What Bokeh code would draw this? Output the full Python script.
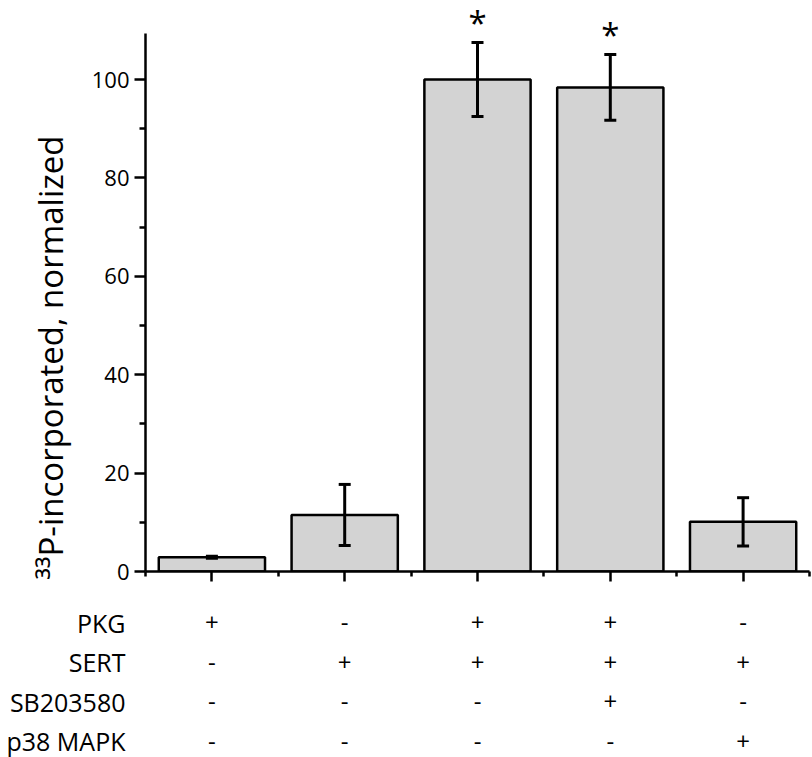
from bokeh.plotting import figure
from bokeh.models import (Range1d, FixedTicker, ColumnDataSource, Whisker, TeeHead, Column, Title)
from bokeh.core.properties import value
from bokeh.embed import file_html
from bokeh.resources import INLINE

# ---- data ----
positions = [1, 2, 3, 4, 5]
values = [2.9, 11.5, 100.0, 98.4, 10.1]
errors = [0.2, 6.2, 7.5, 6.7, 4.9]
star_bars = [3, 4]
row_names = ["PKG", "SERT", "SB203580", "p38 MAPK"]
pkg = ["+", "-", "+", "+", "-"]
sert = ["-", "+", "+", "+", "+"]
sb203580 = ["-", "-", "-", "+", "-"]
p38 = ["-", "-", "-", "-", "+"]
y_ticks = [0, 20, 40, 60, 80, 100]
y_minor = [10, 30, 50, 70, 90]
y_axis_top = 109.35
y_label = "³³P-incorporated, normalized"

FONT = "Open Sans"
W = 812

lower = [v - e for v, e in zip(values, errors)]
upper = [v + e for v, e in zip(values, errors)]
src = ColumnDataSource(dict(x=positions, top=values, lower=lower, upper=upper))

p = figure(width=W, height=598, output_backend="svg", toolbar_location=None,
           x_range=Range1d(0.5, 5.5), y_range=Range1d(0, 116.06),
           min_border_left=145, min_border_right=3, min_border_top=0, min_border_bottom=27)
p.outline_line_color = None
p.grid.visible = False

p.vbar(x="x", top="top", width=0.8, bottom=0, source=src,
       fill_color="#d3d3d3", line_color="black", line_width=2.5)

wh = Whisker(source=src, base="x", lower="lower", upper="upper",
             line_color="black", line_width=3, level="overlay",
             upper_head=TeeHead(size=12, line_color="black", line_width=3),
             lower_head=TeeHead(size=12, line_color="black", line_width=3))
p.add_layout(wh)

star_y = [upper[positions.index(b)] + 4.0 for b in star_bars]
p.text(x=star_bars, y=star_y, text=["*"] * len(star_bars), text_align="center",
       text_baseline="alphabetic", text_font=value(FONT), text_font_size="33px",
       text_color="black")

# y axis
ya = p.yaxis[0]
ya.ticker = FixedTicker(ticks=y_ticks, minor_ticks=y_minor)
ya.bounds = (0, y_axis_top)
ya.axis_line_width = 2.5
ya.major_tick_line_width = 2.5
ya.minor_tick_line_width = 2.5
ya.major_tick_out = 11
ya.major_tick_in = 0
ya.minor_tick_out = 6
ya.minor_tick_in = 0
ya.major_label_text_font = FONT
ya.major_label_text_font_size = "22px"
ya.major_label_text_color = "black"
ya.major_label_standoff = 5

ttl = Title(text=y_label, align="left", offset=-8, standoff=31,
            text_font=FONT, text_font_size="33px", text_font_style="normal",
            text_color="black")
p.add_layout(ttl, "left")

# x axis
xa = p.xaxis[0]
xa.ticker = FixedTicker(ticks=positions, minor_ticks=[x + 0.5 for x in [0] + positions])
xa.axis_line_width = 2.5
xa.major_tick_line_width = 2.5
xa.minor_tick_line_width = 2.5
xa.major_tick_out = 10
xa.major_tick_in = 0
xa.minor_tick_out = 5
xa.minor_tick_in = 0
xa.major_label_overrides = {x: "" for x in positions}

# ---- condition table ----
t = figure(width=W, height=159, output_backend="svg", toolbar_location=None,
           x_range=p.x_range, y_range=Range1d(-3.40, 0.605),
           min_border_left=145, min_border_right=3, min_border_top=0, min_border_bottom=0)
t.outline_line_color = None
t.grid.visible = False
t.xaxis.visible = False
tya = t.yaxis[0]
row_y = [-i for i in range(len(row_names))]
tya.ticker = FixedTicker(ticks=row_y)
tya.major_label_overrides = {y: n for y, n in zip(row_y, row_names)}
tya.axis_line_color = None
tya.major_tick_line_color = None
tya.minor_tick_line_color = None
tya.major_tick_out = 0
tya.major_tick_in = 0
tya.minor_tick_out = 0
tya.minor_tick_in = 0
tya.major_label_text_font = FONT
tya.major_label_text_font_size = "25px"
tya.major_label_text_color = "black"
tya.major_label_standoff = 20

tx, ty, tt = [], [], []
for y, row in zip(row_y, [pkg, sert, sb203580, p38]):
    for x, s in zip(positions, row):
        tx.append(x)
        ty.append(y)
        tt.append(s)
t.text(x=tx, y=ty, text=tt, text_align="center", text_baseline="middle",
       text_font=value(FONT), text_font_size="24px", text_color="black")

layout = Column(p, t, spacing=0)
open("out.html", "w").write(file_html(layout, INLINE))
